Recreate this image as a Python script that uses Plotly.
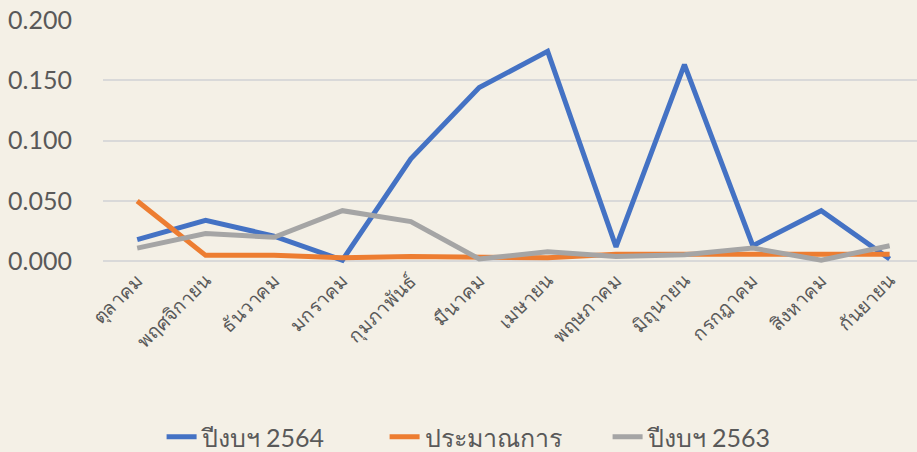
import plotly.graph_objects as go

months = ["ตุลาคม", "พฤศจิกายน", "ธันวาคม", "มกราคม", "กุมภาพันธ์", "มีนาคม",
          "เมษายน", "พฤษภาคม", "มิถุนายน", "กรกฎาคม", "สิงหาคม", "กันยายน"]
fy2564 = [0.018, 0.034, 0.021, 0.001, 0.085, 0.144, 0.174, 0.012, 0.163, 0.013, 0.042, 0.002]
estimate = [0.050, 0.005, 0.005, 0.003, 0.004, 0.004, 0.003, 0.006, 0.006, 0.007, 0.007, 0.006]
fy2563 = [0.011, 0.023, 0.020, 0.042, 0.033, 0.002, 0.008, 0.004, 0.0055, 0.011, 0.001, 0.013]
y_ticks = [0.0, 0.05, 0.10, 0.15, 0.20]

font_family = "Lato, 'Noto Sans', sans-serif"
text_color = "#595959"

fig = go.Figure()
for name, vals, color in [("ปีงบฯ 2564", fy2564, "#4472C4"),
                          ("ประมาณการ", estimate, "#ED7D31"),
                          ("ปีงบฯ 2563", fy2563, "#A5A5A5")]:
    fig.add_trace(go.Scatter(x=list(range(len(months))), y=vals, name=name, mode="lines",
                             line=dict(color=color, width=5)))

fig.update_layout(
    width=917, height=452,
    margin=dict(l=103, r=0, t=20, b=187),
    paper_bgcolor="#F4F0E6", plot_bgcolor="rgba(0,0,0,0)",
    font=dict(family=font_family, color=text_color),
    showlegend=True,
    legend=dict(orientation="h", x=0.541, xanchor="center", xref="container",
                y=0.033, yanchor="middle", yref="container",
                font=dict(size=25, color=text_color),
                entrywidth=178, entrywidthmode="pixels", bgcolor="rgba(0,0,0,0)"),
)
fig.update_xaxes(
    tickmode="array", tickvals=list(range(len(months))), ticktext=months,
    range=[-0.5, 11.4], tickangle=-45, tickfont=dict(size=19, color=text_color),
    showgrid=False, zeroline=False, showline=False, ticks="", automargin=False,
)
fig.update_yaxes(
    range=[-0.003, 0.2], tickvals=y_ticks, tickformat=".3f",
    tickfont=dict(size=25, color=text_color), ticklabelstandoff=30,
    showgrid=True, gridcolor="#D9D9D9", gridwidth=1.5, zeroline=False, showline=False, ticks="",
    automargin=False,
)

fig.write_html("out.html", config={"displayModeBar": False},
               post_script="document.body.style.margin='0';")
